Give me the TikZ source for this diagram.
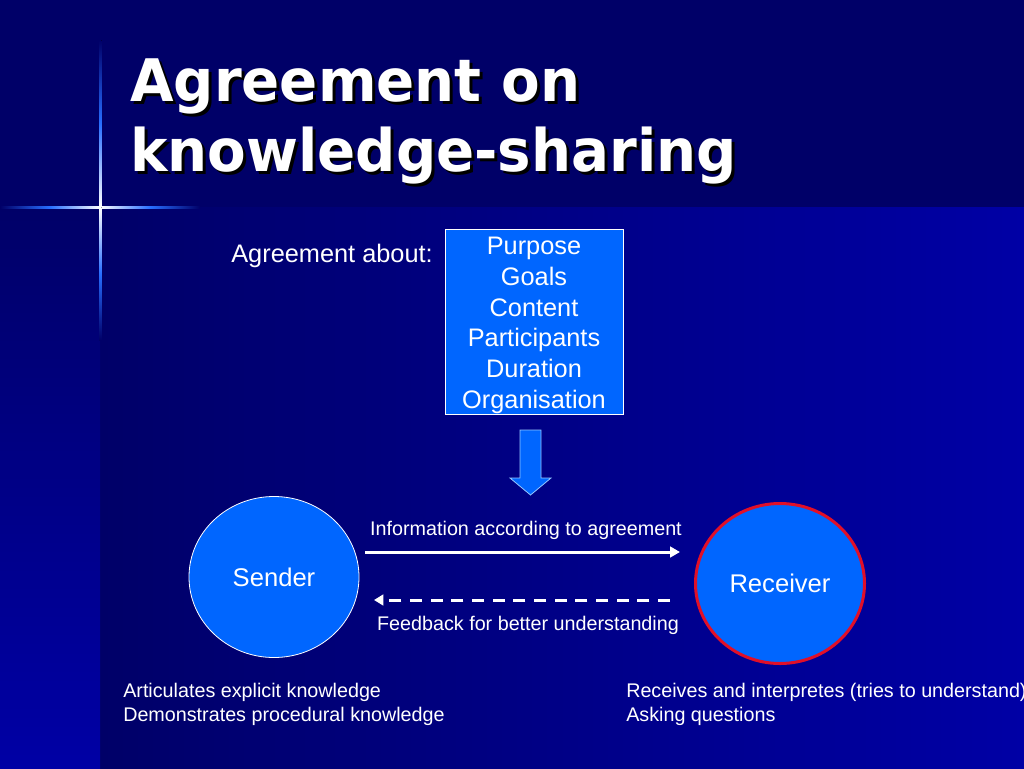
\documentclass[tikz,border=0pt]{standalone}
\usepackage{fontspec}
\setmainfont{Liberation Sans}
\newfontfamily\titlefont{DejaVu Sans}
\usetikzlibrary{arrows.meta,shapes.geometric}
\definecolor{navy}{RGB}{0,0,104}
\definecolor{deepblue}{RGB}{0,0,165}
\definecolor{fillblue}{RGB}{0,102,255}
\definecolor{rimred}{RGB}{225,15,40}
\definecolor{glowblue}{RGB}{40,110,255}
\tikzset{
  titletext/.style={font=\titlefont\bfseries\fontsize{44}{52.5}\selectfont, align=left, inner sep=0pt, xscale=0.959},
  bodytext/.style={font=\fontsize{19}{23}\selectfont, text=white, inner sep=0pt},
  smalltext/.style={font=\fontsize{14.8}{18}\selectfont, text=white, inner sep=0pt},
  agendabox/.style={draw=white, line width=0.75pt, fill=fillblue, minimum width=133.5pt, minimum height=138.75pt, inner sep=0pt},
  sendernode/.style={ellipse, draw=white, line width=0.6pt, fill=fillblue, minimum width=127.5pt, minimum height=120.75pt, inner sep=0pt, font=\fontsize{19.2}{22}\selectfont, text=white},
  receivernode/.style={ellipse, draw=rimred, line width=2.25pt, fill=fillblue, minimum width=126.75pt, minimum height=120pt, inner sep=0pt, font=\fontsize{19.2}{22}\selectfont, text=white},
  flowarrow/.style={draw=white, line width=2.25pt, -{Triangle[length=7.5pt,width=8pt]}},
  feedbackarrow/.style={draw=white, line width=2.25pt, dash pattern=on 9pt off 6.5pt, -{Triangle[length=7pt,width=8pt]}},
  blockarrow/.style={fill=fillblue, draw={rgb,255:red,150;green,200;blue,255}, line width=0.6pt, line join=miter}
}
\begin{document}
\begin{tikzpicture}[x=0.75pt,y=-0.75pt]
\useasboundingbox (0,0) rectangle (1024,768);
\clip (0,0) rectangle (1024,768);
% background
\fill[left color=navy, right color=deepblue] (100,207) rectangle (1024,768);
\fill[top color=navy, bottom color=deepblue] (0,207) rectangle (100,768);
\fill[navy] (0,0) rectangle (1024,207);
% glow lines
\fill[left color=navy, right color=white, middle color=glowblue] (0,206) rectangle (100,208.5);
\fill[left color=white, right color=navy, middle color=glowblue] (100,206) rectangle (200,208.5);
\fill[top color=navy, bottom color=white, middle color=glowblue] (99,40) rectangle (101.5,207);
\fill[top color=white, bottom color=navy, middle color=glowblue] (99,207) rectangle (101.5,340);
% title
\node[titletext, text=black, anchor=base west] (titleshadow) at (133,174) {Agreement on\\knowledge-sharing};
\node[titletext, text=white, anchor=base west] (title) at (130,171) {Agreement on\\knowledge-sharing};
% agreement
\node[bodytext, anchor=base east] (about) at (433,262) {Agreement about:};
\node[agendabox] (agenda) at (534,321.5) {};
\node[bodytext, align=center, anchor=base] (agendatext) at (534,408) {Purpose\\Goals\\Content\\Participants\\Duration\\Organisation};
% down arrow
\path[blockarrow] (520,430) -- (541,430) -- (541,478) -- (551,478) -- (530.5,495) -- (510,478) -- (520,478) -- cycle;
% sender / receiver
\node[sendernode] (sender) at (274,577) {Sender};
\node[receivernode] (receiver) at (780,583.5) {Receiver};
% arrows
\coordinate (infostart) at (365,552);
\coordinate (infoend) at (680,552);
\draw[flowarrow] (infostart) -- (infoend);
\node[smalltext, anchor=base] (infolabel) at (526,535) {Information according to agreement};
\coordinate (fbstart) at (670,600);
\coordinate (fbend) at (374,600);
\draw[feedbackarrow] (fbstart) -- (fbend);
\node[smalltext, anchor=base] (fblabel) at (528,630) {Feedback for better understanding};
% bottom texts
\node[smalltext, align=left, anchor=base west] (senderrole) at (123,721) {Articulates explicit knowledge\\Demonstrates procedural knowledge};
\node[smalltext, align=left, anchor=base west] (receiverrole) at (626,721) {Receives and interpretes (tries to understand)\\Asking questions};
\end{tikzpicture}
\end{document}
